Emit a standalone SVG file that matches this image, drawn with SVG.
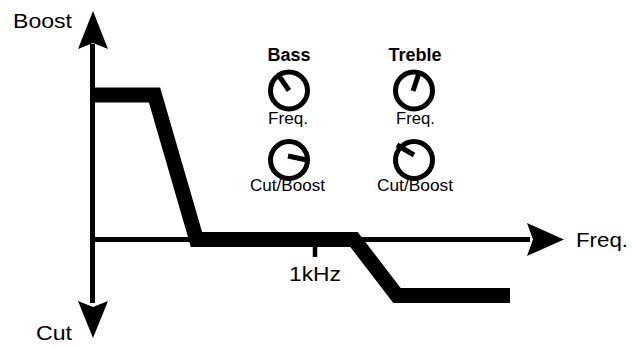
<svg xmlns="http://www.w3.org/2000/svg" width="633" height="347" viewBox="0 0 633 347">
<style>
text{font-family:"Liberation Sans",Arial,sans-serif;fill:#000}
.ax{stroke:#000;stroke-width:5;fill:none}
.ah{fill:#000;stroke:none}
.curve{stroke:#000;stroke-width:15;fill:none;stroke-linejoin:miter;stroke-linecap:butt;stroke-miterlimit:10}
.knob{stroke:#000;stroke-width:5;fill:none}
.ptr{stroke:#000;stroke-width:5;stroke-linecap:butt}
.big{font-size:21px}
.hd{font-size:18px;font-weight:bold}
.sm{font-size:16px}
</style>
<rect width="633" height="347" fill="#fff"/>
<g id="connectors">
  <line class="ax" x1="92.5" y1="44" x2="92.5" y2="303"/>
  <line class="ax" x1="90" y1="239.5" x2="530" y2="239.5"/>
  <polygon class="ah" points="93,11 108,49 93,43 78,49"/>
  <polygon class="ah" points="93,338 108,301 93,307 78,301"/>
  <polygon class="ah" points="564,239.5 527,256 533,239.5 527,223"/>
  <line class="ax" x1="315" y1="242" x2="315" y2="257" style="stroke-width:4.5"/>
</g>
<g id="response-curve">
  <polyline class="curve" points="93,95 154.5,95 196.5,239.5 354,239.5 397,295.5 510,295.5"/>
</g>
<g id="axis-labels">
  <text class="big" x="13" y="28" textLength="59" lengthAdjust="spacingAndGlyphs">Boost</text>
  <text class="big" x="36" y="340" textLength="36" lengthAdjust="spacingAndGlyphs">Cut</text>
  <text class="big" x="576" y="247" textLength="52" lengthAdjust="spacingAndGlyphs">Freq.</text>
  <text class="big" x="289" y="281" textLength="52" lengthAdjust="spacingAndGlyphs" style="font-size:20px">1kHz</text>
</g>
<g id="bass">
  <text class="hd" x="289" y="61" text-anchor="middle">Bass</text>
  <g id="bass-freq">
    <circle class="knob" cx="289" cy="90.5" r="18.5"/>
    <line class="ptr" x1="289" y1="90.5" x2="279" y2="76"/>
    <text class="sm" x="268" y="124" textLength="40" lengthAdjust="spacingAndGlyphs">Freq.</text>
  </g>
  <g id="bass-cutboost">
    <circle class="knob" cx="289" cy="160" r="18.5"/>
    <line class="ptr" x1="288" y1="156" x2="307" y2="160"/>
    <text class="sm" x="250" y="191" textLength="75" lengthAdjust="spacingAndGlyphs">Cut/Boost</text>
  </g>
</g>
<g id="treble">
  <text class="hd" x="415" y="61" text-anchor="middle">Treble</text>
  <g id="treble-freq">
    <circle class="knob" cx="414" cy="90.5" r="18.5"/>
    <line class="ptr" x1="413" y1="91" x2="419" y2="73"/>
    <text class="sm" x="396" y="124" textLength="39" lengthAdjust="spacingAndGlyphs">Freq.</text>
  </g>
  <g id="treble-cutboost">
    <circle class="knob" cx="414" cy="160" r="18.5"/>
    <line class="ptr" x1="414" y1="155" x2="397" y2="145"/>
    <text class="sm" x="377" y="191" textLength="76" lengthAdjust="spacingAndGlyphs">Cut/Boost</text>
  </g>
</g>
</svg>
